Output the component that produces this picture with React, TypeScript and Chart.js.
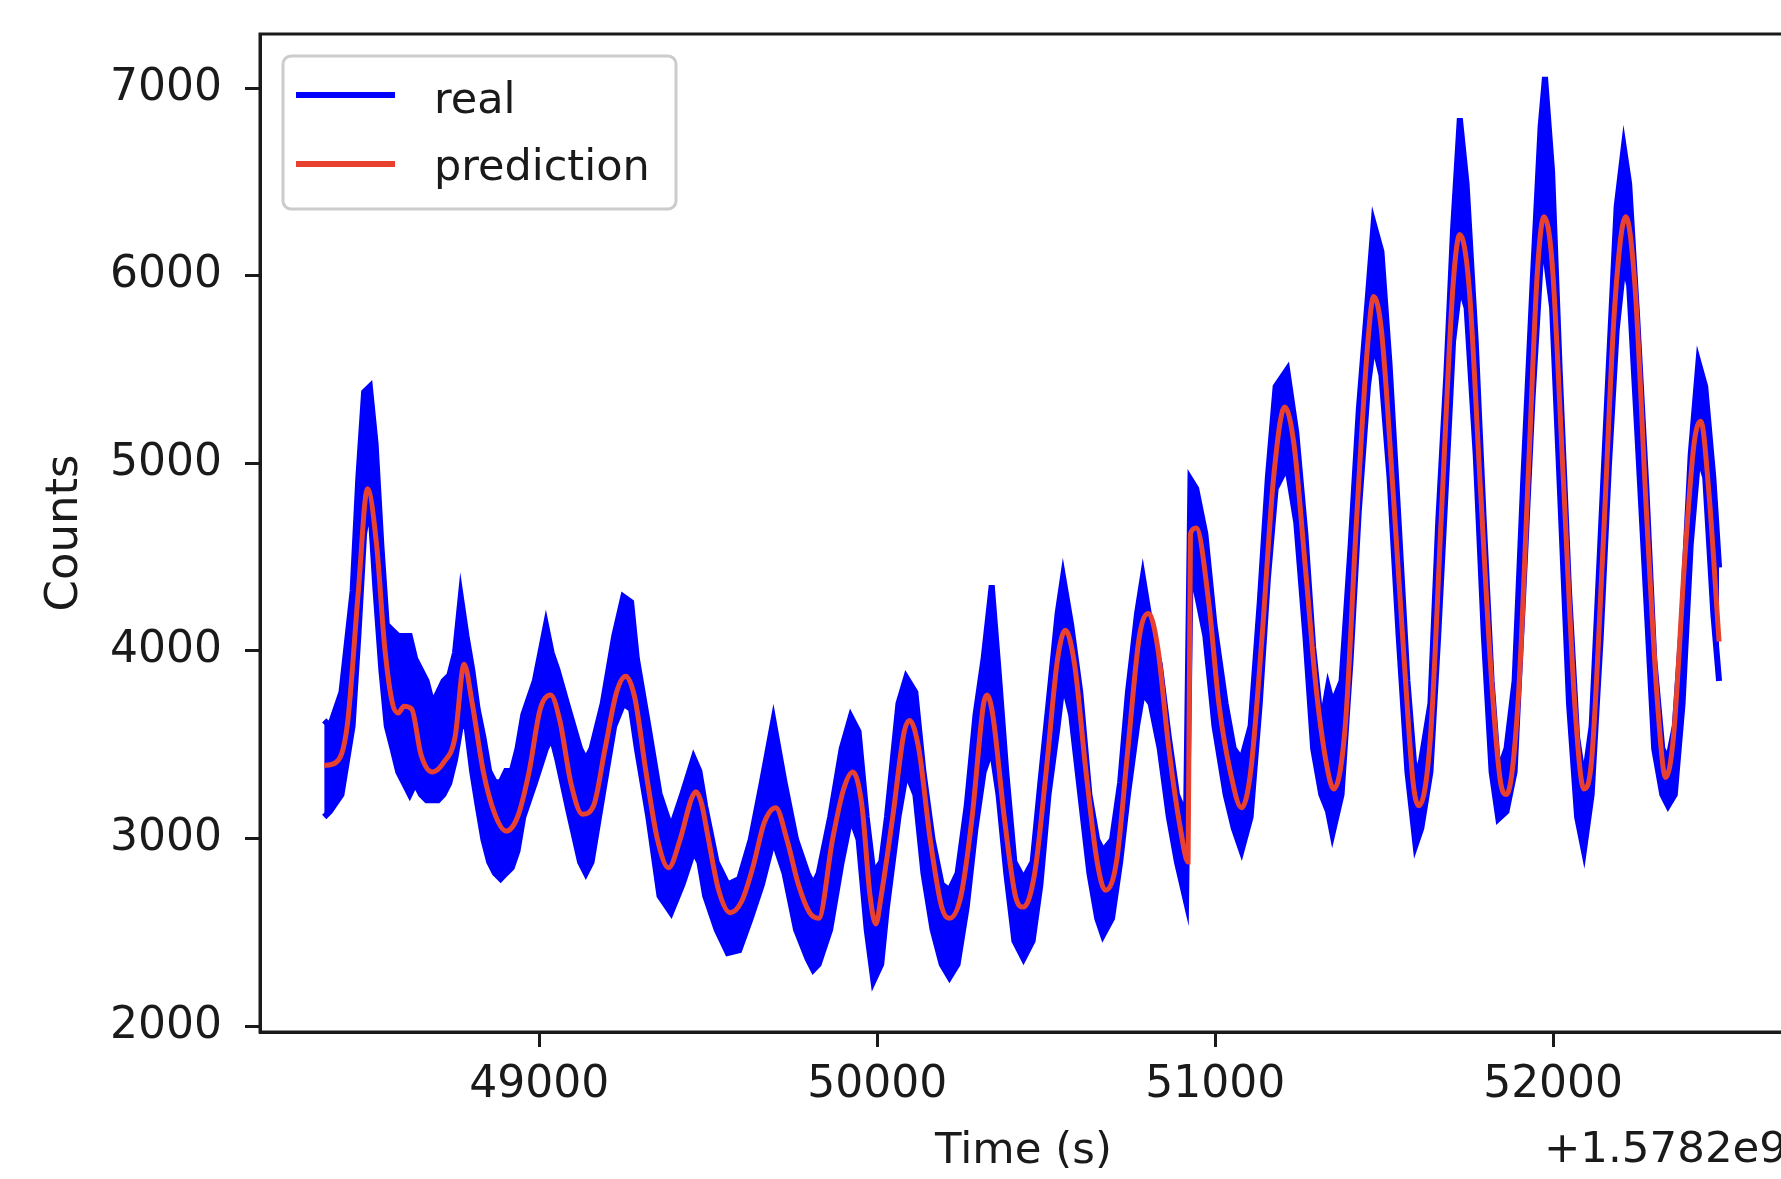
import React, { useEffect, useRef } from "react";
import { Chart, registerables } from "chart.js";

Chart.register(...registerables);

const FONT = '"DejaVu Sans", "Liberation Sans", sans-serif';
const TEXT = "#1a1a1a";
const AXIS = "#1a1a1a";
const BLUE = "#0000ff";
const RED = "#e8412f";

// axis setup (time is shown relative to the offset +1.5782e9 s)
const xTicks = [49000, 50000, 51000, 52000];
const yTicks = [2000, 3000, 4000, 5000, 6000, 7000];
const xLimits = [48174, 52692];
const yLimits = [1969, 7289];
const offsetText = "+1.5782e9";
const xTitle = "Time (s)";
const yTitle = "Counts";
const legendLabels = ["real", "prediction"];

// "real" counts: time grid with upper / lower extent of the noisy signal
const realTime = [
  48364, 48381, 48415, 48448, 48465, 48482, 48499, 48516, 48533, 48549,
  48566, 48583, 48600, 48617, 48633, 48650, 48667, 48684, 48701, 48717,
  48734, 48751, 48768, 48785, 48802, 48818, 48835, 48852, 48869, 48886,
  48902, 48919, 48936, 48953, 48987, 49020, 49037, 49054, 49087, 49121,
  49138, 49155, 49188, 49222, 49249, 49272, 49289, 49323, 49356, 49390,
  49424, 49457, 49474, 49491, 49525, 49558, 49592, 49626, 49659, 49693,
  49726, 49760, 49794, 49811, 49827, 49861, 49895, 49922, 49945, 49969,
  49989, 50012, 50029, 50063, 50086, 50113, 50137, 50164, 50191, 50214,
  50238, 50265, 50291, 50315, 50339, 50359, 50382, 50406, 50433, 50460,
  50483, 50507, 50534, 50550, 50574, 50601, 50628, 50651, 50668, 50695,
  50719, 50742, 50769, 50786, 50809, 50836, 50863, 50887, 50914, 50927,
  50944, 50971, 50998, 51031, 51055, 51078, 51105, 51132, 51156, 51179,
  51213, 51240, 51267, 51290, 51314, 51334, 51347, 51374, 51401, 51425,
  51452, 51469, 51492, 51516, 51543, 51569, 51593, 51610, 51637, 51660,
  51684, 51704, 51724, 51744, 51771, 51795, 51818, 51838, 51862, 51886,
  51912, 51939, 51963, 51976, 51997, 52020, 52047, 52071, 52091, 52114,
  52141, 52165, 52188, 52209, 52225, 52249, 52276, 52299, 52323, 52340,
  52360, 52383, 52407, 52430, 52450, 52474, 52491,
];
const realUpper = [
  3630, 3600, 3780, 4320, 4925, 5380, 5410, 5105, 4565, 4140,
  4110, 4080, 4080, 4080, 3960, 3900, 3840, 3720, 3780, 3840,
  3870, 3990, 4290, 4080, 3900, 3690, 3540, 3360, 3300, 3300,
  3360, 3360, 3480, 3660, 3840, 4140, 3990, 3900, 3690, 3480,
  3420, 3480, 3720, 4080, 4290, 4260, 3960, 3600, 3240, 3055,
  3240, 3430, 3360, 3175, 2875, 2755, 2785, 2995, 3300, 3630,
  3300, 2995, 2815, 2755, 2815, 3115, 3480, 3650, 3570, 3115,
  2815, 2875, 3115, 3720, 3860, 3780, 3355, 2995, 2755, 2725,
  2815, 3175, 3660, 3960, 4350, 3900, 3355, 2875, 2785, 2875,
  3300, 3720, 4200, 4395, 4140, 3780, 3235, 2995, 2935, 2995,
  3300, 3780, 4200, 4395, 4140, 3930, 3540, 3235, 3115, 4915,
  4865, 4625, 4140, 3720, 3480, 3420, 3600, 4260, 4925, 5410,
  5500, 5165, 4625, 4020, 3600, 3810, 3720, 3840, 4565, 5285,
  5890, 6280, 6130, 5530, 4685, 3840, 3300, 3420, 3720, 4685,
  5470, 6250, 6840, 6490, 5650, 4685, 3840, 3355, 3480, 3840,
  4925, 5950, 6795, 7060, 6555, 5470, 4320, 3540, 3300, 3600,
  4625, 5530, 6370, 6685, 6490, 5770, 4865, 3960, 3480, 3420,
  3600, 4200, 5045, 5540, 5410, 4925, 4445,
];
const realLower = [
  3115, 3145, 3235, 3600, 4080, 4625, 4805, 4320, 3900, 3600,
  3480, 3355, 3295, 3235, 3295, 3235, 3205, 3205, 3205, 3235,
  3295, 3420, 3600, 3600, 3355, 3175, 2995, 2875, 2815, 2785,
  2815, 2845, 2935, 3115, 3295, 3480, 3540, 3420, 3145, 2875,
  2815, 2875, 3235, 3600, 3720, 3690, 3480, 3115, 2695, 2605,
  2755, 2935, 2875, 2695, 2515, 2390, 2405, 2575, 2755, 2995,
  2815, 2515, 2360, 2300, 2330, 2515, 2875, 3115, 2995, 2515,
  2240, 2330, 2635, 3115, 3355, 3235, 2815, 2515, 2330, 2260,
  2330, 2635, 3055, 3355, 3480, 3235, 2815, 2455, 2360, 2455,
  2755, 3235, 3600, 3840, 3660, 3235, 2815, 2575, 2485, 2575,
  2875, 3235, 3600, 3780, 3720, 3480, 3115, 2875, 2665, 4385,
  4320, 4080, 3600, 3235, 3055, 2935, 3115, 3720, 4385, 4865,
  4985, 4685, 4080, 3480, 3235, 3145, 3025, 3235, 3960, 4745,
  5410, 5650, 5470, 4925, 4080, 3355, 2965, 3055, 3355, 4080,
  4925, 5650, 5950, 5830, 5045, 4080, 3355, 3105, 3145, 3355,
  4320, 5345, 6070, 6130, 5830, 4865, 3720, 3115, 2935, 3235,
  4080, 4985, 5710, 6070, 5950, 5165, 4260, 3480, 3235, 3175,
  3235, 3720, 4565, 5045, 4925, 4200, 3840,
];

// "prediction" counts
const predTime = [
  48364, 48398, 48432, 48465, 48492, 48519, 48543, 48566, 48583, 48600,
  48623, 48650, 48684, 48717, 48751, 48778, 48802, 48835, 48869, 48902,
  48936, 48970, 49003, 49034, 49061, 49094, 49128, 49161, 49195, 49229,
  49256, 49283, 49316, 49350, 49383, 49417, 49451, 49464, 49480, 49498,
  49531, 49565, 49599, 49632, 49666, 49700, 49733, 49767, 49800, 49827,
  49868, 49901, 49928, 49955, 49979, 49996, 50012, 50046, 50080, 50096,
  50123, 50157, 50191, 50214, 50248, 50281, 50315, 50325, 50342, 50376,
  50409, 50433, 50466, 50500, 50534, 50557, 50584, 50618, 50651, 50675,
  50708, 50742, 50776, 50803, 50830, 50863, 50897, 50920, 50927, 50944,
  50981, 51011, 51045, 51078, 51105, 51139, 51173, 51206, 51233, 51267,
  51300, 51334, 51351, 51385, 51418, 51452, 51469, 51492, 51526, 51559,
  51586, 51603, 51637, 51670, 51704, 51724, 51751, 51785, 51818, 51845,
  51862, 51896, 51929, 51953, 51973, 51997, 52030, 52064, 52091, 52114,
  52148, 52182, 52215, 52242, 52276, 52309, 52333, 52356, 52390, 52417,
  52437, 52460, 52491,
];
const predValue = [
  3390, 3405, 3600, 4320, 4865, 4565, 4020, 3720, 3670, 3705,
  3690, 3450, 3355, 3405, 3540, 3930, 3720, 3355, 3130, 3040,
  3115, 3355, 3690, 3765, 3630, 3295, 3130, 3175, 3480, 3780,
  3865, 3750, 3355, 2995, 2845, 2995, 3215, 3250, 3190, 3025,
  2725, 2605, 2665, 2845, 3085, 3165, 2995, 2755, 2605, 2575,
  2995, 3265, 3355, 3175, 2695, 2545, 2695, 3115, 3570, 3630,
  3480, 2995, 2635, 2575, 2695, 3115, 3720, 3765, 3660, 3115,
  2695, 2635, 2815, 3355, 3960, 4110, 3930, 3355, 2875, 2725,
  2875, 3480, 4080, 4200, 4020, 3480, 3055, 2875, 4625, 4655,
  4260, 3720, 3355, 3165, 3355, 4080, 4925, 5300, 5105, 4445,
  3780, 3355, 3265, 3600, 4685, 5650, 5890, 5710, 4865, 3960,
  3295, 3175, 3540, 4745, 5950, 6220, 5950, 4865, 3840, 3295,
  3235, 3720, 5045, 6010, 6315, 6070, 4925, 3720, 3265, 3420,
  4565, 5830, 6315, 5950, 4745, 3720, 3325, 3540, 4505, 5105,
  5225, 4865, 4050,
];

const overlayPlugin = {
  id: "overlay",
  afterDraw(chart: any) {
    const { ctx, chartArea: a } = chart;
    ctx.save();
    // axes frame
    ctx.strokeStyle = AXIS;
    ctx.lineWidth = 3;
    ctx.strokeRect(a.left, a.top, a.right - a.left, a.bottom - a.top);

    // legend
    const lx = a.left + 23;
    const ly = a.top + 22;
    ctx.beginPath();
    ctx.roundRect(lx, ly, 393, 153, 8);
    ctx.fillStyle = "rgba(255,255,255,0.8)";
    ctx.fill();
    ctx.strokeStyle = "#cccccc";
    ctx.lineWidth = 3;
    ctx.stroke();

    const colors = [BLUE, RED];
    const lineY = [a.top + 61, a.top + 130];
    const textY = [a.top + 79, a.top + 146];
    ctx.lineCap = "butt";
    for (let i = 0; i < legendLabels.length; i++) {
      ctx.beginPath();
      ctx.strokeStyle = colors[i];
      ctx.lineWidth = 6;
      ctx.moveTo(a.left + 36, lineY[i]);
      ctx.lineTo(a.left + 135, lineY[i]);
      ctx.stroke();
      ctx.fillStyle = TEXT;
      ctx.font = `43px ${FONT}`;
      ctx.textAlign = "left";
      ctx.textBaseline = "alphabetic";
      ctx.fillText(legendLabels[i], a.left + 174, textY[i]);
    }

    // offset text of the x axis
    ctx.font = `43.5px ${FONT}`;
    ctx.textAlign = "right";
    ctx.textBaseline = "alphabetic";
    ctx.fillStyle = TEXT;
    ctx.fillText(offsetText, a.right, a.bottom + 130);
    ctx.restore();
  },
};

export default function App() {
  const ref = useRef<HTMLCanvasElement>(null);
  useEffect(() => {
    const realUpperPts = realTime.map((t, i) => ({ x: t, y: realUpper[i] }));
    const realLowerPts = realTime.map((t, i) => ({ x: t, y: realLower[i] }));
    const predPts = predTime.map((t, i) => ({ x: t, y: predValue[i] }));
    const chart = new Chart(ref.current as HTMLCanvasElement, {
      type: "line",
      data: {
        datasets: [
          {
            label: legendLabels[1],
            data: predPts,
            borderColor: RED,
            borderWidth: 5,
            pointRadius: 0,
            fill: false,
            cubicInterpolationMode: "monotone",
            order: 0,
          },
          {
            label: "real (lower)",
            data: realLowerPts,
            borderColor: BLUE,
            borderWidth: 6,
            pointRadius: 0,
            fill: false,
            order: 1,
          },
          {
            label: legendLabels[0],
            data: realUpperPts,
            borderColor: BLUE,
            borderWidth: 6,
            pointRadius: 0,
            backgroundColor: BLUE,
            fill: "-1",
            order: 1,
          },
        ] as any,
      },
      options: {
        responsive: false,
        animation: false,
        devicePixelRatio: 1,
        layout: { padding: { left: 0, top: 34, right: 13, bottom: 0 } },
        plugins: {
          legend: { display: false },
          tooltip: { enabled: false },
        },
        scales: {
          x: {
            type: "linear",
            min: xLimits[0],
            max: xLimits[1],
            afterBuildTicks: (s: any) => {
              s.ticks = xTicks.map((v) => ({ value: v }));
            },
            afterFit: (s: any) => {
              s.height = 147;
              s.paddingLeft = 0;
              s.paddingRight = 0;
            },
            ticks: {
              font: { family: FONT, size: 44 },
              color: TEXT,
              padding: 12,
              maxRotation: 0,
              autoSkip: false,
              callback: (v: any) => String(v),
            },
            grid: {
              drawOnChartArea: false,
              drawTicks: true,
              tickLength: 15,
              tickWidth: 3,
              color: AXIS,
            },
            border: { display: true, color: AXIS, width: 3 },
            title: {
              display: true,
              text: xTitle,
              font: { family: FONT, size: 43.5 },
              color: TEXT,
              padding: { top: 0, bottom: 1 },
            },
          },
          y: {
            type: "linear",
            min: yLimits[0],
            max: yLimits[1],
            afterBuildTicks: (s: any) => {
              s.ticks = yTicks.map((v) => ({ value: v }));
            },
            afterFit: (s: any) => {
              s.width = 260;
              s.paddingTop = 0;
              s.paddingBottom = 0;
            },
            ticks: {
              font: { family: FONT, size: 44 },
              color: TEXT,
              padding: 23,
              autoSkip: false,
              callback: (v: any) => String(v),
            },
            grid: {
              drawOnChartArea: false,
              drawTicks: true,
              tickLength: 15,
              tickWidth: 3,
              color: AXIS,
            },
            border: { display: true, color: AXIS, width: 3 },
            title: {
              display: true,
              text: yTitle,
              font: { family: FONT, size: 45 },
              color: TEXT,
              padding: { top: 38, bottom: 0 },
            },
          },
        },
      } as any,
      plugins: [overlayPlugin],
    });
    return () => chart.destroy();
  }, []);
  return (
    <div
      style={{
        position: "fixed",
        left: 0,
        top: 0,
        width: 1781,
        height: 1179,
        overflow: "hidden",
        background: "#ffffff",
      }}
    >
      <canvas
        ref={ref}
        width={1800}
        height={1179}
        style={{ display: "block", width: 1800, height: 1179 }}
      />
    </div>
  );
}
